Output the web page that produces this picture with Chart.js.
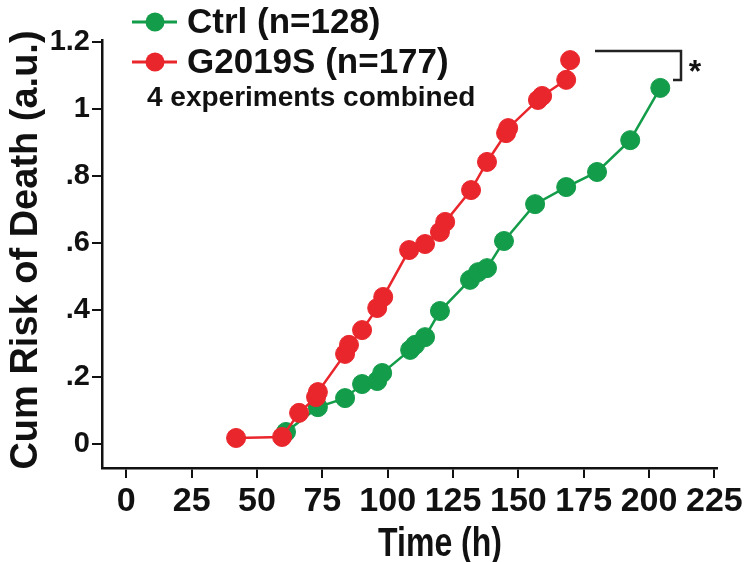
<!DOCTYPE html>
<html>
<head>
<meta charset="utf-8">
<script src="https://cdn.jsdelivr.net/npm/chart.js@4.4.1/dist/chart.umd.min.js"></script>
<style>
  html, body { margin: 0; padding: 0; background: #fff; }
  canvas { display: block; }
</style>
</head>
<body>
<canvas id="chart" width="750" height="562"></canvas>
<script>
// datos (tiempo en h, riesgo acumulado)
const ctrlTime = [61.1, 73.3, 83.7, 90.2, 96.0, 97.9, 108.6, 110.5, 114.3, 120.0, 131.5, 134.6, 138.0, 144.5, 156.4, 168.3, 180.1, 192.8, 204.3];
const ctrlRisk = [0.036, 0.110, 0.137, 0.179, 0.188, 0.212, 0.281, 0.296, 0.319, 0.397, 0.490, 0.513, 0.525, 0.606, 0.716, 0.767, 0.812, 0.907, 1.063];

const g2019sTime = [42.0, 59.6, 66.1, 72.6, 73.3, 83.7, 85.2, 90.2, 96.0, 98.3, 108.2, 114.3, 120.0, 122.0, 131.9, 138.0, 145.3, 146.1, 157.5, 159.1, 168.3, 169.8];
const g2019sRisk = [0.018, 0.021, 0.093, 0.140, 0.155, 0.269, 0.296, 0.340, 0.406, 0.439, 0.579, 0.597, 0.633, 0.663, 0.758, 0.842, 0.928, 0.943, 1.027, 1.039, 1.087, 1.146];

const seriesLabels = ['Ctrl (n=128)', 'G2019S (n=177)'];
const noteText = '4 experiments combined';
const xTicks = [0, 25, 50, 75, 100, 125, 150, 175, 200, 225];
const yTicks = [0, 0.2, 0.4, 0.6, 0.8, 1.0, 1.2];
const yTickLabels = ['0', '.2', '.4', '.6', '.8', '1', '1.2'];
const xTitle = 'Time (h)';
const yTitle = 'Cum Risk of Death (a.u.)';

const GREEN = '#139c49';
const RED = '#e9262c';
const INK = '#111';
const SANS = '"Liberation Sans", Arial, sans-serif';

const toPoints = (xs, ys) => xs.map((x, i) => ({ x, y: ys[i] }));

// leyenda, corchete con asterisco y títulos de ejes
const decor = {
  id: 'decor',
  afterDraw(chart) {
    const ctx = chart.ctx;
    ctx.save();

    // marcadores de la leyenda
    [[GREEN, 22], [RED, 62]].forEach(([c, y]) => {
      ctx.strokeStyle = c;
      ctx.lineWidth = 3;
      ctx.beginPath();
      ctx.moveTo(132, y);
      ctx.lineTo(177, y);
      ctx.stroke();
      ctx.fillStyle = c;
      ctx.beginPath();
      ctx.arc(155, y, 9.5, 0, Math.PI * 2);
      ctx.fill();
    });

    ctx.fillStyle = INK;
    ctx.textAlign = 'left';
    ctx.textBaseline = 'middle';
    ctx.font = `bold 35px ${SANS}`;
    ctx.fillText(seriesLabels[0], 187, 23);
    ctx.fillText(seriesLabels[1], 187, 63);
    ctx.font = `bold 28px ${SANS}`;
    ctx.fillText(noteText, 147, 98);

    // corchete de significación
    ctx.strokeStyle = '#222';
    ctx.lineWidth = 2.5;
    ctx.beginPath();
    ctx.moveTo(595, 51);
    ctx.lineTo(681, 51);
    ctx.lineTo(681, 80);
    ctx.lineTo(673, 80);
    ctx.stroke();
    ctx.font = `bold 32px ${SANS}`;
    ctx.textAlign = 'center';
    ctx.fillText('*', 695, 73);

    // título eje x (estrecho, como en el original)
    ctx.save();
    ctx.translate(440, 545);
    ctx.scale(0.8, 1);
    ctx.font = `bold 40px ${SANS}`;
    ctx.fillText(xTitle, 0, 0);
    ctx.restore();

    // título eje y
    ctx.translate(27, 250);
    ctx.rotate(-Math.PI / 2);
    ctx.font = `bold 38px ${SANS}`;
    ctx.fillText(yTitle, 0, 0);

    ctx.restore();
  }
};

new Chart(document.getElementById('chart'), {
  type: 'line',
  data: {
    datasets: [
      {
        label: seriesLabels[1],
        data: toPoints(g2019sTime, g2019sRisk),
        borderColor: RED,
        backgroundColor: RED,
        pointBackgroundColor: RED,
        pointBorderColor: RED,
        borderWidth: 2.5,
        pointRadius: 9.5,
        pointBorderWidth: 1,
        tension: 0
      },
      {
        label: seriesLabels[0],
        data: toPoints(ctrlTime, ctrlRisk),
        borderColor: GREEN,
        backgroundColor: GREEN,
        pointBackgroundColor: GREEN,
        pointBorderColor: GREEN,
        borderWidth: 2.5,
        pointRadius: 9.5,
        pointBorderWidth: 1,
        tension: 0
      }
    ]
  },
  options: {
    responsive: false,
    animation: false,
    devicePixelRatio: 1,
    layout: { padding: { top: 40, right: 33, left: 0, bottom: 0 } },
    plugins: {
      legend: { display: false },
      tooltip: { enabled: false }
    },
    scales: {
      x: {
        type: 'linear',
        min: -9.3,
        max: 226,
        afterBuildTicks: axis => { axis.ticks = xTicks.map(v => ({ value: v })); },
        afterFit: axis => { axis.height = 94; },
        border: { display: true, color: INK, width: 2.5 },
        grid: { drawOnChartArea: false, drawTicks: true, tickLength: 10, color: INK, lineWidth: 2 },
        ticks: {
          color: INK,
          padding: 3,
          maxRotation: 0,
          autoSkip: false,
          font: { family: SANS, size: 34, weight: 'bold' }
        }
      },
      y: {
        type: 'linear',
        min: -0.0716,
        max: 1.206,
        afterBuildTicks: axis => { axis.ticks = yTicks.map(v => ({ value: v })); },
        afterFit: axis => { axis.width = 102; },
        border: { display: true, color: INK, width: 2.5 },
        grid: { drawOnChartArea: false, drawTicks: true, tickLength: 10, color: INK, lineWidth: 2 },
        ticks: {
          color: INK,
          padding: 2,
          autoSkip: false,
          font: { family: SANS, size: 29, weight: 'bold' },
          callback: (v, i) => yTickLabels[i]
        }
      }
    }
  },
  plugins: [decor]
});
</script>
</body>
</html>
